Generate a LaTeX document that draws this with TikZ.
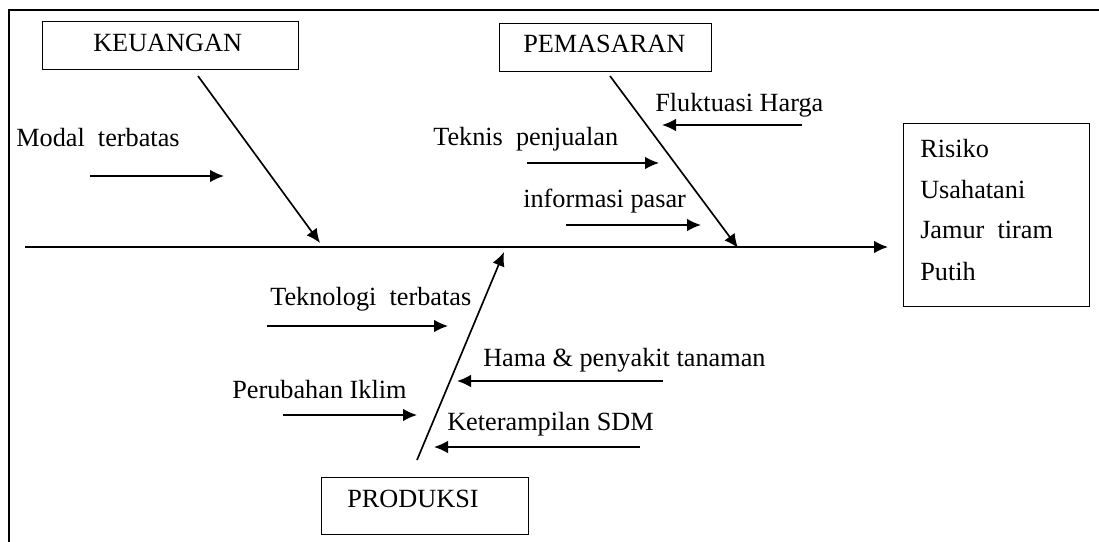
\documentclass[tikz,border=0pt]{standalone}
\usepackage{fontspec}
\setmainfont{Liberation Serif}
\usetikzlibrary{arrows.meta}
\begin{document}
\begin{tikzpicture}[x=0.75pt,y=-0.75pt,
  txt/.style={anchor=base west,inner sep=0pt,font=\fontsize{19.7}{24}\selectfont},
  catbox/.style={draw,line width=1.1pt,anchor=north west,inner sep=0pt},
  arr/.style={line width=1.25pt,-{Latex[length=10.5pt,width=9.5pt]}}]
\useasboundingbox (0,0) rectangle (1099,542);
% frame
\draw[line width=1.9pt] (9,542) -- (9,10) -- (1099,10);
% boxes
\node[catbox,minimum width=256*0.75pt,minimum height=48*0.75pt] (keubox) at (42,21) {};
\node[catbox,minimum width=212*0.75pt,minimum height=48*0.75pt] (pembox) at (499,23) {};
\node[catbox,minimum width=186*0.75pt,minimum height=183*0.75pt] (riskbox) at (903,123) {};
\node[catbox,minimum width=207*0.75pt,minimum height=57*0.75pt] (probox) at (321,477) {};
% box texts
\node[txt] (keu) at (93,52) {KEUANGAN};
\node[txt] (pem) at (523,53) {PEMASARAN};
\node[txt] (pro) at (347,507) {PRODUKSI};
\node[txt] (r1) at (920,157) {Risiko};
\node[txt] (r2) at (920,198) {Usahatani};
\node[txt] (r3) at (920,238) {Jamur\ \ tiram};
\node[txt] (r4) at (920,280) {Putih};
% cause texts
\node[txt] (modal) at (16,146) {Modal\ \ terbatas};
\node[txt] (fluk) at (655,112) {Fluktuasi Harga};
\node[txt] (tekn) at (433,145) {Teknis\ \ penjualan};
\node[txt] (info) at (523,207) {informasi pasar};
\node[txt] (tekno) at (270,305) {Teknologi\ \ terbatas};
\node[txt] (hama) at (483,366) {Hama \& penyakit tanaman};
\node[txt] (iklim) at (232,398) {Perubahan Iklim};
\node[txt] (sdm) at (447,430) {Keterampilan SDM};
% coordinates
\coordinate (spineS) at (25,247);
\coordinate (spineE) at (888,247);
\coordinate (keuS) at (198,76);
\coordinate (keuE) at (320,243);
\coordinate (pemS) at (610,76);
\coordinate (pemE) at (738,248);
\coordinate (proS) at (417,460);
\coordinate (proE) at (504,252);
\coordinate (modalS) at (90,176);
\coordinate (modalE) at (224,176);
\coordinate (flukS) at (802,125);
\coordinate (flukE) at (662,125);
\coordinate (teknS) at (527,163);
\coordinate (teknE) at (659,163);
\coordinate (infoS) at (566,225);
\coordinate (infoE) at (701,225);
\coordinate (teknoS) at (267,326);
\coordinate (teknoE) at (448,326);
\coordinate (hamaS) at (663,381);
\coordinate (hamaE) at (457,381);
\coordinate (iklimS) at (283,415);
\coordinate (iklimE) at (417,415);
\coordinate (sdmS) at (640,447);
\coordinate (sdmE) at (434,447);
% spine and ribs
\draw[arr] (spineS) -- (spineE);
\draw[arr] (keuS) -- (keuE);
\draw[arr] (pemS) -- (pemE);
\draw[arr] (proS) -- (proE);
% causes
\draw[arr] (modalS) -- (modalE);
\draw[arr] (flukS) -- (flukE);
\draw[arr] (teknS) -- (teknE);
\draw[arr] (infoS) -- (infoE);
\draw[arr] (teknoS) -- (teknoE);
\draw[arr] (hamaS) -- (hamaE);
\draw[arr] (iklimS) -- (iklimE);
\draw[arr] (sdmS) -- (sdmE);
\end{tikzpicture}
\end{document}
